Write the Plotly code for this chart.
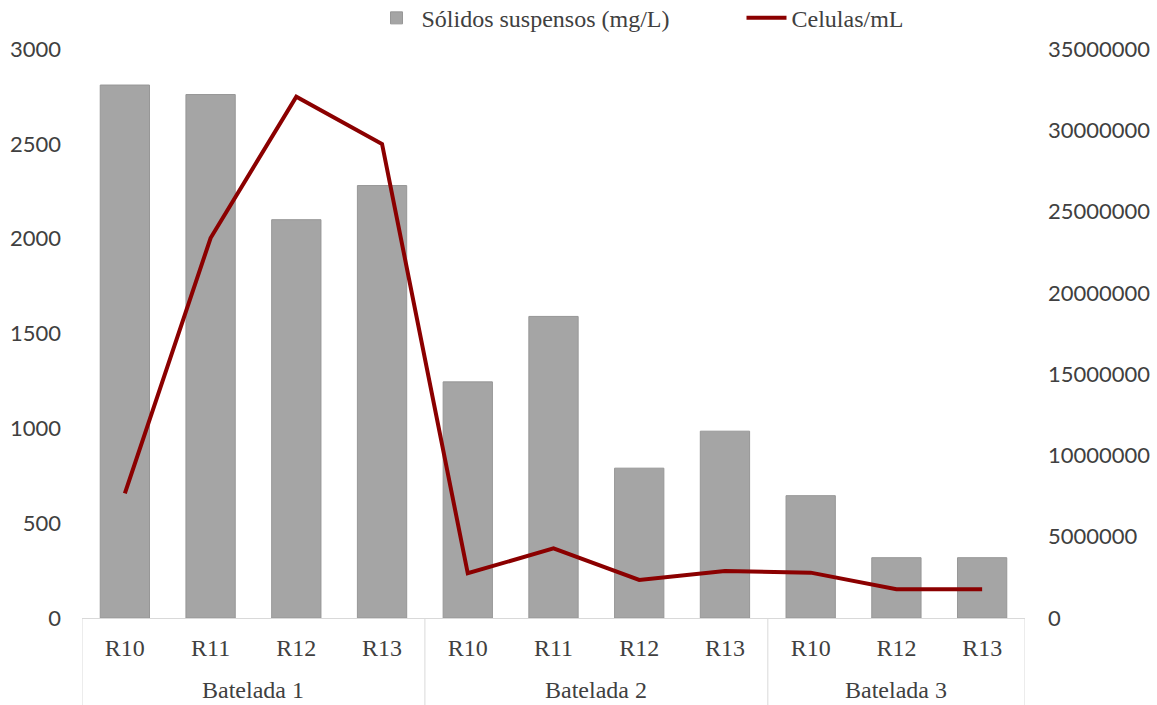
import plotly.graph_objects as go

# Batch / reactor categories
bateladas = ["Batelada 1"] * 4 + ["Batelada 2"] * 4 + ["Batelada 3"] * 3
reatores = ["R10", "R11", "R12", "R13",
            "R10", "R11", "R12", "R13",
            "R10", "R12", "R13"]

# Suspended solids (mg/L)
solidos = [2810, 2760, 2100, 2280, 1245, 1590, 790, 985, 645, 318, 318]

# Cell counts (cells/mL)
celulas = [7670000, 23370000, 32070000, 29160000,
           2750000, 4290000, 2340000, 2890000,
           2790000, 1770000, 1770000]

serif = "Liberation Serif, Times New Roman, serif"
sans = "Lato, Carlito, Calibri, sans-serif"
text_color = "#404040"
rule_color = "#D9D9D9"

pos = list(range(len(reatores)))

# Group the positions by batch (in order of appearance)
grupos = []
for i, b in enumerate(bateladas):
    if not grupos or grupos[-1][0] != b:
        grupos.append([b, i, i])
    else:
        grupos[-1][2] = i

fig = go.Figure()

fig.add_trace(go.Bar(
    x=pos,
    y=solidos,
    name="Sólidos suspensos (mg/L)",
    marker=dict(color="#A5A5A5", line=dict(color="#979797", width=1)),
    yaxis="y",
))

fig.add_trace(go.Scatter(
    x=pos,
    y=celulas,
    name="Celulas/mL",
    mode="lines",
    line=dict(color="#8B0000", width=4),
    yaxis="y2",
))

# Batch labels under the reactor labels, with separators between batches
annotations = []
shapes = []
for nome, ini, fim in grupos:
    annotations.append(dict(
        x=(ini + fim) / 2, xref="x",
        y=-0.1265, yref="paper",
        text=nome, showarrow=False,
        xanchor="center", yanchor="middle",
        font=dict(family=serif, size=24, color=text_color),
    ))
bordas = [grupos[0][1] - 0.5] + [fim + 0.5 for _, _, fim in grupos]
for xb in bordas:
    shapes.append(dict(
        type="line", xref="x", yref="paper",
        x0=xb, x1=xb, y0=0, y1=-0.153,
        line=dict(color=rule_color, width=1),
    ))

fig.update_layout(
    width=1157,
    height=705,
    margin=dict(l=82, r=132, t=49, b=87, autoexpand=False),
    paper_bgcolor="white",
    plot_bgcolor="white",
    bargap=0.425,
    showlegend=True,
    legend=dict(
        orientation="h",
        x=0.307, xanchor="left",
        y=1.054, yanchor="middle",
        font=dict(family=serif, size=24, color=text_color),
        itemwidth=40,
        entrywidth=315,
        entrywidthmode="pixels",
        traceorder="normal",
    ),
    annotations=annotations,
    shapes=shapes,
    xaxis=dict(
        range=[-0.5, len(reatores) - 0.5],
        tickmode="array",
        tickvals=pos,
        ticktext=reatores,
        showline=True,
        linecolor=rule_color,
        linewidth=1,
        showgrid=False,
        zeroline=False,
        ticks="",
        ticklabelstandoff=8,
        tickfont=dict(family=serif, size=24, color=text_color),
    ),
    yaxis=dict(
        range=[0, 3000],
        dtick=500,
        showgrid=False,
        showline=False,
        zeroline=False,
        ticks="",
        ticklabelstandoff=20,
        tickfont=dict(family=sans, size=22, color=text_color),
    ),
    yaxis2=dict(
        range=[0, 35000000],
        dtick=5000000,
        overlaying="y",
        side="right",
        showgrid=False,
        showline=False,
        zeroline=False,
        ticks="",
        tickformat=".0f",
        ticklabelstandoff=22,
        tickfont=dict(family=sans, size=22, color=text_color),
    ),
)

fig.write_html("out.html")
